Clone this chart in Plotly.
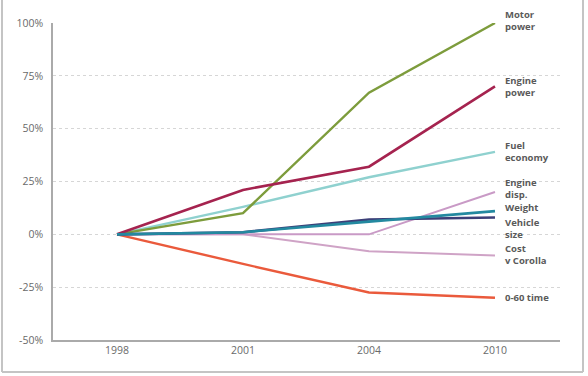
import plotly.graph_objects as go

years = ["1998", "2001", "2004", "2010"]
series_names = ["Motor<br>power", "Engine<br>power", "Fuel<br>economy", "Engine<br>disp.",
                "Weight", "Vehicle<br>size", "Cost<br>v Corolla", "0-60 time"]
motor_power = [0, 10, 67, 100]
engine_power = [0, 21, 32, 70]
fuel_economy = [0, 13, 27, 39]
engine_disp = [0, 0, 0, 20]
weight = [0, 1, 6, 11]
vehicle_size = [0, 1, 7, 8]
cost_v_corolla = [0, 0, -8, -10]
zero_sixty = [0, -14, -27.5, -30]
label_y = [100, 70, 39, 21.5, 12.8, 2.6, -9.5, -30]
label_shift = [3, 0, 0, 0, 0, 0, 0, 0]
y_ticks = [-50, -25, 0, 25, 50, 75, 100]
y_tick_labels = ["-50%", "-25%", "0%", "25%", "50%", "75%", "100%"]

all_series = [motor_power, engine_power, fuel_economy, engine_disp,
              weight, vehicle_size, cost_v_corolla, zero_sixty]
colors = ["#7d9c3c", "#a5234f", "#8fd1cf", "#c99ac6",
          "#2389a0", "#3c3f78", "#cfa3c6", "#ea5a3c"]
widths = [2.4, 2.6, 2.4, 2, 2.6, 2.6, 2, 2.4]
order = [6, 3, 2, 0, 7, 1, 5, 4]

fig = go.Figure()
for i in order:
    fig.add_trace(go.Scatter(x=years, y=all_series[i], mode="lines",
                             line=dict(color=colors[i], width=widths[i]),
                             showlegend=False, hoverinfo="skip"))

for name, ly, sh in zip(series_names, label_y, label_shift):
    fig.add_annotation(x=3.063, y=ly, xref="x", yref="y", text="<b>" + name + "</b>",
                       showarrow=False, xanchor="left", yanchor="middle", align="left",
                       yshift=sh,
                       font=dict(family="Open Sans", size=9.5, color="#5a5a5a"))

# outer frame
x0 = (2 - 53) / 507
x1 = (583 - 53) / 507
y0 = -(372 - 340) / 317
y1 = (340 - 0) / 317
for seg in [(x0, y0, x0, y1), (x1, y0, x1, y1), (x0, y0, x1, y0)]:
    fig.add_shape(type="line", xref="paper", yref="paper",
                  x0=seg[0], y0=seg[1], x1=seg[2], y1=seg[3],
                  line=dict(color="#c4c4c4", width=2))

fig.update_layout(
    width=588, height=376,
    margin=dict(l=53, r=28, t=23, b=36),
    paper_bgcolor="white", plot_bgcolor="white",
    font=dict(family="Open Sans", color="#6a6a6a", size=11),
    xaxis=dict(type="category", range=[-0.508, 3.516], showgrid=False,
               showline=True, linecolor="#aaaaaa", linewidth=1.5,
               ticks="", tickfont=dict(size=10.5, color="#6a6a6a")),
    yaxis=dict(range=[-50, 100], tickvals=y_ticks, ticktext=y_tick_labels,
               showgrid=True, gridcolor="#d6d6d6", griddash="dot", gridwidth=1,
               showline=True, linecolor="#aaaaaa", linewidth=1.5,
               zeroline=False, ticks="", ticklabelstandoff=6,
               tickfont=dict(size=10.5, color="#6a6a6a")),
)

fig.write_html("out.html")
